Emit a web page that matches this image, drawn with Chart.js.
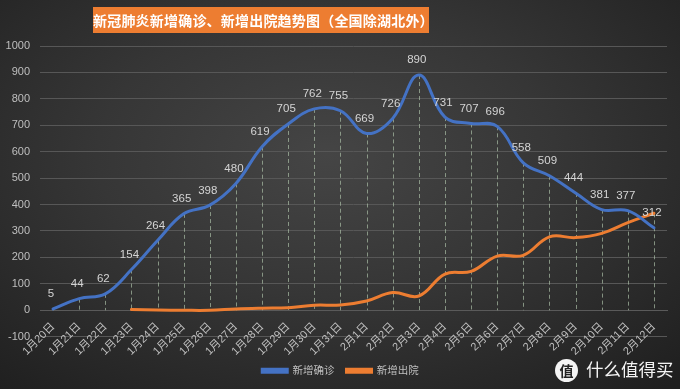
<!DOCTYPE html>
<html><head><meta charset="utf-8">
<script src="https://cdn.jsdelivr.net/npm/chart.js@4/dist/chart.umd.min.js"></script>
<style>
html,body{margin:0;padding:0;}
body{width:680px;height:389px;overflow:hidden;position:relative;
background:radial-gradient(ellipse 75% 80% at 48% 40%, #454545 0%, #363636 45%, #1f1f1f 100%);}
#wrap{position:absolute;left:0;top:0;width:680px;height:389px;}
#title{position:absolute;left:93px;top:7px;width:336px;height:26px;background:#ED7D31;color:#fff;white-space:nowrap;
font:bold 14px "Noto Sans CJK SC",sans-serif;line-height:26px;text-align:center;letter-spacing:0.2px;}
#wm{position:absolute;left:555px;top:356px;color:#fff;font:17.5px "Noto Sans CJK SC",sans-serif;line-height:26px;opacity:0.95;white-space:nowrap;}
#wm span.c{display:inline-block;width:23px;height:23px;border-radius:12px;background:#fff;color:#222;font-size:14px;line-height:23px;text-align:center;font-weight:bold;vertical-align:middle;margin-right:8px;position:relative;top:-1px;}
</style></head>
<body>
<div id="wrap"><canvas id="c" width="680" height="389"></canvas></div>
<div id="title">新冠肺炎新增确诊、新增出院趋势图（全国除湖北外）</div>
<div id="wm"><span class="c">值</span>什么值得买</div>
<script>
const categories = ["1月20日","1月21日","1月22日","1月23日","1月24日","1月25日","1月26日","1月27日","1月28日","1月29日","1月30日","1月31日","2月1日","2月2日","2月3日","2月4日","2月5日","2月6日","2月7日","2月8日","2月9日","2月10日","2月11日","2月12日"];
const confirmed = [5,44,62,154,264,365,398,480,619,705,762,755,669,726,890,731,707,696,558,509,444,381,377,312];
const discharged = [null,null,null,3,1,0,0,5,8,10,19,20,35,67,54,137,147,205,208,278,275,291,332,367];
const yTicks = {min:-100,max:1000,step:100};
const seriesNames = ["新增确诊","新增出院"];

const FONT = '"Liberation Sans","Noto Sans CJK SC",sans-serif';

const dropLines = {
  id:'dropLines',
  beforeDatasetsDraw(chart){
    const {ctx} = chart;
    const x = chart.scales.x, y = chart.scales.y;
    ctx.save();
    ctx.strokeStyle = 'rgba(170,190,165,0.7)';
    ctx.lineWidth = 1;
    ctx.setLineDash([4,3]);
    const y0 = y.getPixelForValue(0);
    categories.forEach((c,i)=>{
      const vals = [confirmed[i],discharged[i]].filter(v=>v!==null);
      const m = Math.max(...vals);
      const px = x.getPixelForValue(i);
      ctx.beginPath();
      ctx.moveTo(Math.round(px)+0.5, y.getPixelForValue(m));
      ctx.lineTo(Math.round(px)+0.5, y0);
      ctx.stroke();
    });
    ctx.restore();
  }
};

const dataLabels = {
  id:'dataLabels',
  afterDatasetsDraw(chart){
    const {ctx} = chart;
    const meta = chart.getDatasetMeta(0);
    ctx.save();
    ctx.fillStyle = '#d4d4d4';
    ctx.font = '11.5px ' + FONT;
    ctx.textAlign = 'center';
    ctx.textBaseline = 'bottom';
    meta.data.forEach((pt,i)=>{
      ctx.fillText(String(confirmed[i]), pt.x-2, pt.y-9);
    });
    ctx.restore();
  }
};

const legendShift = {
  id:'legendShift',
  afterLayout(chart){
    if (chart.legend){ chart.legend.left += 5; chart.legend.right += 5; }
  }
};

new Chart(document.getElementById('c'),{
  type:'line',
  data:{
    labels:categories,
    datasets:[
      {label:seriesNames[0],data:confirmed,borderColor:'#4472C4',backgroundColor:'#4472C4',borderWidth:3,pointRadius:0,tension:0.4,borderCapStyle:'round'},
      {label:seriesNames[1],data:discharged,borderColor:'#ED7D31',backgroundColor:'#ED7D31',borderWidth:3,pointRadius:0,tension:0.4,borderCapStyle:'round'}
    ]
  },
  options:{
    responsive:false,
    animation:false,
    events:[],
    layout:{padding:{top:46,right:13,left:4,bottom:3}},
    plugins:{
      legend:{position:'bottom',
        title:{display:true,text:' ',padding:0,font:{size:14}},
        labels:{color:'#bfbfbf',font:{size:10.5,family:FONT},boxWidth:25,boxHeight:3,padding:12}},
      tooltip:{enabled:false},
      title:{display:false}
    },
    scales:{
      x:{
        position:{y:0},
        offset:true,
        grid:{display:false},
        border:{display:true,color:'#5a5a5a'},
        ticks:{color:'#bfbfbf',font:{size:11,family:FONT},maxRotation:45,minRotation:45,autoSkip:false,padding:2}
      },
      y:{
        min:yTicks.min,max:yTicks.max,
        afterFit(s){ s.width = 36; },
        ticks:{stepSize:yTicks.step,color:'#bfbfbf',font:{size:11,family:FONT},padding:10,callback:v=>String(v)},
        grid:{color:'#575757',drawTicks:false},
        border:{display:false}
      }
    }
  },
  plugins:[dropLines,dataLabels,legendShift]
});
</script>
</body></html>
